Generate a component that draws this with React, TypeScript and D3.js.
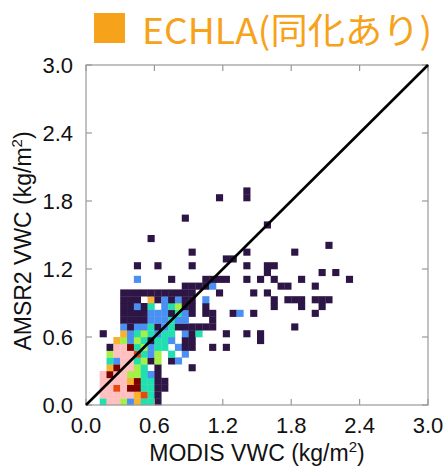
import { useEffect, useRef } from "react";
import * as d3 from "d3";

const W = 446;
const H = 467;

const xTicks = [0, 0.6, 1.2, 1.8, 2.4, 3.0];
const yTicks = [0, 0.6, 1.2, 1.8, 2.4, 3.0];
const binSize = 0.06;

// colour per count level (1 = fewest points ... 8 = most)
const levelColors = ["#2d1645", "#4a8ff2", "#22dfb0", "#a6ef45", "#f7b133", "#e8480f", "#7d0000", "#ffbfbf"];

// 2D histogram bins, bottom row first, 40 bins per row (0 = empty)
const binRows = [
    "0038842533 1000000000 0000000000 0000000000",
    "0088888563 1000000000 0000000000 0000000000",
    "0088687733 1100000000 0000000000 0000000000",
    "0088885733 1100000000 0000000000 0000000000",
    "0087884432 1000000000 0000000000 0000000000",
    "0005788430 1000010000 0000000000 0000000000",
    "0003288341 4012000000 0000000000 0000000000",
    "0004888632 4030200000 0000000000 0000000000",
    "0001887342 3302110010 1000000000 0000000000",
    "0000542431 3320110000 0000010000 0000000000",
    "0010052343 2330213000 1001010000 0000000000",
    "0000021223 1231111110 0000000000 1000000000",
    "0000011112 2232200010 0000000000 0000000000",
    "0000011112 2213210110 0120100000 0001000000",
    "0000011213 0234110100 0000000100 0100100000",
    "0000011105 1212110200 0000000101 1101110000",
    "0000011111 1111110001 0000101000 0000000000",
    "0000000000 0000111120 0000000011 0001000000",
    "0000000200 0010000111 1001010100 0100000010",
    "0000000000 0000000000 0000001000 0000101000",
    "0000000100 1000010000 0001001100 0000000000",
    "0000000000 0000000000 1100000000 0000000000",
    "0000000000 0000010000 0001000000 1000000000",
    "0000000000 0000000000 0000000000 0000010000",
    "0000000001 0000000000 0000000000 0000000000",
    "0000000000 0000000000 0000000000 0000000000",
    "0000000000 0000000000 0000001000 0000000000",
    "0000000000 0000100000 0000000000 0000000000",
    "0000000000 0000000000 0000000000 0000000000",
    "0000000000 0000000000 0000000000 0000000000",
    "0000000000 0000000001 0001000000 0000000000",
    "0000000000 0000000000 0001000000 0000000000",
];

const titleText = "ECHLA(同化あり)";
const xLabel = "MODIS VWC (kg/m";
const yLabel = "AMSR2 VWC (kg/m";

const App = () => {
    const svgRef = useRef(null);

    useEffect(() => {
        const svg = d3.select(svgRef.current);
        svg.selectAll("*").remove();

        const x = d3.scaleLinear().domain([0, 3]).range([86, 428]);
        const y = d3.scaleLinear().domain([0, 3]).range([405, 65]);

        // flatten bins into cells
        const cells = [];
        binRows.forEach((row, j) => {
            row.replace(/ /g, "").split("").forEach((c, i) => {
                const level = +c;
                if (level > 0) cells.push({ i, j, level });
            });
        });

        svg.append("g")
            .selectAll("rect")
            .data(cells)
            .join("rect")
            .attr("x", (d) => x(d.i * binSize))
            .attr("y", (d) => y((d.j + 1) * binSize))
            .attr("width", x(binSize) - x(0) + 0.3)
            .attr("height", y(0) - y(binSize) + 0.3)
            .attr("fill", (d) => levelColors[d.level - 1]);

        // frame + inward ticks on all sides
        const frame = svg.append("g").attr("stroke", "#999").attr("stroke-width", 1.2).attr("fill", "none");
        frame.append("rect")
            .attr("x", x(0))
            .attr("y", y(3))
            .attr("width", x(3) - x(0))
            .attr("height", y(0) - y(3));
        xTicks.forEach((t) => {
            frame.append("line").attr("x1", x(t)).attr("x2", x(t)).attr("y1", y(0)).attr("y2", y(0) - 6);
            frame.append("line").attr("x1", x(t)).attr("x2", x(t)).attr("y1", y(3)).attr("y2", y(3) + 6);
        });
        yTicks.forEach((t) => {
            frame.append("line").attr("x1", x(0)).attr("x2", x(0) + 6).attr("y1", y(t)).attr("y2", y(t));
            frame.append("line").attr("x1", x(3)).attr("x2", x(3) - 6).attr("y1", y(t)).attr("y2", y(t));
        });

        // 1:1 line
        svg.append("line")
            .attr("x1", x(0))
            .attr("y1", y(0))
            .attr("x2", x(3))
            .attr("y2", y(3))
            .attr("stroke", "#000")
            .attr("stroke-width", 2.6);

        const font = "'Liberation Sans', Arial, sans-serif";

        svg.append("g")
            .selectAll("text")
            .data(xTicks)
            .join("text")
            .attr("x", (d) => x(d))
            .attr("y", 433)
            .attr("text-anchor", "middle")
            .attr("font-family", font)
            .attr("font-size", 22)
            .attr("fill", "#111")
            .text((d) => d.toFixed(1));

        svg.append("g")
            .selectAll("text")
            .data(yTicks)
            .join("text")
            .attr("x", 73)
            .attr("y", (d) => y(d))
            .attr("dy", "0.36em")
            .attr("text-anchor", "end")
            .attr("font-family", font)
            .attr("font-size", 22)
            .attr("fill", "#111")
            .text((d) => d.toFixed(1));

        // axis titles with superscript 2
        const xt = svg.append("text")
            .attr("x", 257)
            .attr("y", 461)
            .attr("text-anchor", "middle")
            .attr("font-family", font)
            .attr("font-size", 23)
            .attr("fill", "#111");
        xt.append("tspan").text(xLabel);
        xt.append("tspan").attr("font-size", 15).attr("dy", -9).text("2");
        xt.append("tspan").attr("dy", 9).text(")");

        const yt = svg.append("text")
            .attr("transform", "translate(31,241) rotate(-90)")
            .attr("text-anchor", "middle")
            .attr("font-family", font)
            .attr("font-size", 23)
            .attr("fill", "#111");
        yt.append("tspan").text(yLabel);
        yt.append("tspan").attr("font-size", 15).attr("dy", -9).text("2");
        yt.append("tspan").attr("dy", 9).text(")");

        // title
        svg.append("rect")
            .attr("x", 94)
            .attr("y", 13)
            .attr("width", 31)
            .attr("height", 30)
            .attr("fill", "#f7a21b");
        svg.append("text")
            .attr("x", 142)
            .attr("y", 44)
            .attr("font-family", "'Noto Sans CJK JP', 'Noto Sans', sans-serif")
            .attr("font-size", 36)
            .attr("textLength", 290)
            .attr("lengthAdjust", "spacingAndGlyphs")
            .attr("fill", "#f7a21b")
            .text(titleText);
    }, []);

    return (
        <svg
            ref={svgRef}
            width={W}
            height={H}
            style={{ position: "absolute", left: 0, top: 0, background: "#fff" }}
        ></svg>
    );
};

export default App;
